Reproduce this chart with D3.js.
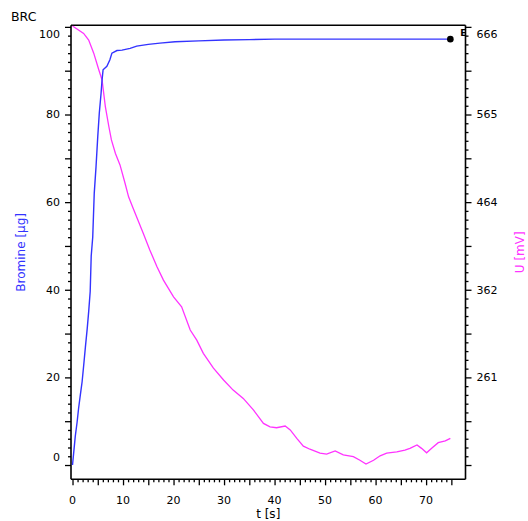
<!DOCTYPE html>
<html>
<head>
<meta charset="utf-8">
<script src="https://cdn.jsdelivr.net/npm/d3@7/dist/d3.min.js"></script>
<style>
  html, body { margin: 0; padding: 0; background: #fff; }
  svg { display: block; }
  text { font-family: "DejaVu Sans", Verdana, sans-serif; }
</style>
</head>
<body>
<svg id="chart" width="528" height="521"></svg>
<script>
// ---- data ----
const brTime = [0, 0.25, 0.55, 0.9, 1.2, 1.55, 1.9, 2.2, 2.55, 2.9, 3.2, 3.5, 3.7, 4.0, 4.3, 4.65, 5.0, 5.3, 5.65, 5.85, 6.05, 6.8, 7.4, 7.8, 8.8, 9.8, 11.4, 12.7, 15, 17.3, 20.3, 25, 30, 35, 40, 50, 60, 70, 74.8];
const bromine = [0, 3.0, 6.6, 9.7, 12.9, 16.0, 19.0, 22.6, 26.9, 31.0, 35.0, 39.6, 47.7, 52, 62, 68, 75, 80.3, 84.8, 87.9, 90.2, 91, 92.5, 94, 94.6, 94.7, 95.1, 95.6, 96.0, 96.3, 96.6, 96.8, 97.0, 97.1, 97.2, 97.2, 97.2, 97.2, 97.2];

const uTime = [0, 2.2, 3.2, 4.2, 5.2, 5.85, 6.5, 7.2, 7.7, 8.5, 9.4, 10.4, 11.1, 12.0, 14.0, 15.3, 16.7, 18.0, 20.0, 21.6, 23.3, 24.6, 25.9, 27.9, 29.9, 31.8, 33.8, 35.8, 37.8, 39.1, 40.4, 42.1, 43.1, 44.4, 45.7, 47.0, 49.0, 50.3, 52.0, 53.6, 55.6, 56.9, 58.1, 59.6, 60.9, 62.2, 64.2, 65.8, 66.8, 68.2, 69.1, 70.1, 71.1, 72.4, 73.8, 74.8];
const voltage = [667.0, 658.4, 650.8, 635.6, 616.4, 604.7, 573.9, 550.6, 535.4, 519.7, 506.5, 485.3, 469.6, 456.4, 427.6, 408.3, 389.1, 373.4, 354.1, 342.5, 315.7, 304.0, 288.8, 271.6, 258.0, 246.3, 236.7, 223.5, 207.8, 203.8, 202.8, 204.8, 200.3, 190.6, 181.5, 178.0, 173.4, 172.4, 176.0, 171.4, 169.4, 165.3, 160.8, 165.3, 170.4, 173.4, 174.9, 177.0, 179.0, 183.0, 179.0, 173.9, 179.0, 185.6, 187.6, 190.6];

const xTickLabels = [0, 10, 20, 30, 40, 50, 60, 70];
const leftTickLabels = [0, 20, 40, 60, 80, 100];
const rightTickLabels = [261, 362, 464, 565, 666];

// ---- layout ----
const L = 71, R = 465.5, T = 25.3, B = 479.3;
const svg = d3.select("#chart");

const x = d3.scaleLinear().domain([-0.3, 77.8]).range([L, R]);
const yL = d3.scaleLinear().domain([-3.26, 100.36]).range([B, T]);
const yR = d3.scaleLinear().domain([143.25, 667.82]).range([B, T]);

// minor / major ticks
const xMinor = d3.range(0, 76, 1).filter(v => v % 5 !== 0);
const xMajor = d3.range(0, 76, 5);
const yMinor = d3.range(0, 101, 2).filter(v => v % 10 !== 0);
const yMajor = d3.range(0, 101, 10);

function tickGroup(axis, transform) {
  const g = svg.append("g").attr("transform", transform).call(axis);
  g.select(".domain").remove();
  g.selectAll("text").remove();
  g.selectAll("line").attr("stroke", "#000").attr("stroke-width", 1.3);
  return g;
}
tickGroup(d3.axisBottom(x).tickValues(xMinor).tickSize(3), `translate(0,${B})`);
tickGroup(d3.axisBottom(x).tickValues(xMajor).tickSize(6), `translate(0,${B})`);
tickGroup(d3.axisLeft(yL).tickValues(yMinor).tickSize(3), `translate(${L},0)`);
tickGroup(d3.axisLeft(yL).tickValues(yMajor).tickSize(6), `translate(${L},0)`);
tickGroup(d3.axisRight(yL).tickValues(yMinor).tickSize(3), `translate(${R},0)`);
tickGroup(d3.axisRight(yL).tickValues(yMajor).tickSize(6), `translate(${R},0)`);

// frame
const frame = svg.append("g").attr("stroke", "#000").attr("stroke-width", 1.6).attr("fill", "none");
frame.append("line").attr("x1", L).attr("x2", R).attr("y1", T).attr("y2", T).attr("stroke-width", 1.4);
frame.append("line").attr("x1", L).attr("x2", R).attr("y1", B).attr("y2", B);
frame.append("line").attr("x1", L).attr("x2", L).attr("y1", T).attr("y2", B);
frame.append("line").attr("x1", R).attr("x2", R).attr("y1", T).attr("y2", B);

// tick labels
const clampY = y => Math.max(T + 9, Math.min(B - 22, y));
svg.append("g").selectAll("text").data(leftTickLabels).join("text")
  .attr("x", 60).attr("y", d => clampY(yL(d)))
  .attr("dy", "0.36em").attr("text-anchor", "end")
  .attr("font-size", 11).attr("fill", "#000").text(d => d);
svg.append("g").selectAll("text").data(rightTickLabels).join("text")
  .attr("x", 476.5).attr("y", d => clampY(yR(d)))
  .attr("dy", "0.36em").attr("text-anchor", "start")
  .attr("font-size", 11).attr("fill", "#000").text(d => d);
svg.append("g").selectAll("text").data(xTickLabels).join("text")
  .attr("x", d => x(d)).attr("y", 503.5).attr("text-anchor", "middle")
  .attr("font-size", 11).attr("fill", "#000").text(d => d);

// titles
svg.append("text").attr("x", 11).attr("y", 21).attr("font-size", 12.5).attr("fill", "#000").text("BRC");
svg.append("text").attr("x", (L + R) / 2).attr("y", 518).attr("text-anchor", "middle")
  .attr("font-size", 12).attr("fill", "#000").text("t [s]");
svg.append("text").attr("transform", `translate(25,${(T + B) / 2}) rotate(-90)`)
  .attr("text-anchor", "middle").attr("font-size", 12).attr("fill", "#3333ff").text("Bromine [µg]");
svg.append("text").attr("transform", `translate(524,${(T + B) / 2}) rotate(-90)`)
  .attr("text-anchor", "middle").attr("font-size", 12).attr("fill", "#ff33ff").text("U [mV]");

// lines
const uData = uTime.map((t, i) => [t, voltage[i]]);
const bData = brTime.map((t, i) => [t, bromine[i]]);
svg.append("path").datum(uData)
  .attr("fill", "none").attr("stroke", "#ff33ff").attr("stroke-width", 1.3)
  .attr("d", d3.line().x(d => x(d[0])).y(d => yR(d[1])));
svg.append("path").datum(bData)
  .attr("fill", "none").attr("stroke", "#3333ff").attr("stroke-width", 1.4)
  .attr("d", d3.line().x(d => x(d[0])).y(d => yL(d[1])));

// end marker
const last = bData[bData.length - 1];
svg.append("circle").attr("cx", x(last[0])).attr("cy", yL(last[1])).attr("r", 3.3).attr("fill", "#000");
svg.append("text").attr("x", x(last[0]) + 10).attr("y", yL(last[1]) - 3)
  .attr("font-size", 9).attr("font-weight", "bold").attr("fill", "#000").text("E");
</script>
</body>
</html>
